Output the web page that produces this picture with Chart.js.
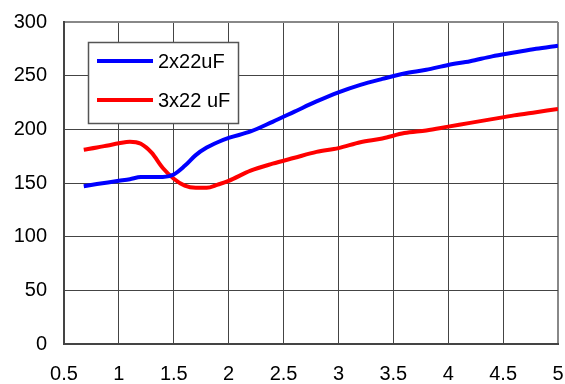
<!DOCTYPE html>
<html>
<head>
<meta charset="utf-8">
<script src="https://cdn.jsdelivr.net/npm/chart.js@4"></script>
<style>
    html, body { margin: 0; padding: 0; background: #fff; }
    #wrap { width: 565px; height: 384px; }
</style>
</head>
<body>
<div id="wrap"><canvas id="chart"></canvas></div>
<script>
// データ
const xValues = [0.68, 0.8, 0.9, 1.0, 1.1, 1.2, 1.3, 1.4, 1.5, 1.6, 1.7, 1.8, 1.9, 2.0,
    2.2, 2.4, 2.6, 2.8, 3.0, 3.2, 3.4, 3.6, 3.8, 4.0, 4.2, 4.4, 4.6, 4.8, 5.0];
const blueValues = [147, 149, 150.5, 152, 153.5, 155.5, 155.5, 155.5, 158, 166, 176, 183, 188, 192,
    198, 207, 216.5, 226, 234.5, 241.5, 247, 252, 255.5, 260, 263.5, 268, 271.5, 275, 278];
const redValues = [181, 183, 185, 187, 188.5, 186.5, 178, 164, 154, 147.5, 145.5, 145.5, 148.5, 152,
    161.5, 168, 173.5, 179, 182.5, 188, 191.5, 196.5, 199, 202.5, 206, 209.5, 213, 216, 219];
const seriesLabels = ['2x22uF', '3x22 uF'];

const FONT = '"Liberation Sans", Arial, sans-serif';

const toPoints = (ys) => xValues.map((x, i) => ({ x: x, y: ys[i] }));

// 枠付きの凡例を描くプラグイン
const boxLegend = {
    id: 'boxLegend',
    afterDraw(chart) {
        const ctx = chart.ctx;
        const left = 88, top = 42, w = 150, h = 81;
        ctx.save();
        ctx.fillStyle = '#fff';
        ctx.fillRect(left, top, w, h);
        ctx.strokeStyle = '#555';
        ctx.lineWidth = 1.5;
        ctx.strokeRect(left + 0.5, top + 0.5, w, h);
        ctx.font = '20px ' + FONT;
        ctx.textBaseline = 'middle';
        chart.data.datasets.forEach((ds, i) => {
            const y = 61 + i * 39;
            ctx.strokeStyle = ds.borderColor;
            ctx.lineWidth = 4;
            ctx.beginPath();
            ctx.moveTo(97, y);
            ctx.lineTo(153, y);
            ctx.stroke();
            ctx.fillStyle = '#000';
            ctx.fillText(ds.label, 158, y + 1);
        });
        ctx.restore();
    }
};

new Chart(document.getElementById('chart'), {
    type: 'line',
    data: {
        datasets: [
            { label: seriesLabels[0], data: toPoints(blueValues), borderColor: '#0000ff', borderWidth: 4, pointRadius: 0, cubicInterpolationMode: 'monotone' },
            { label: seriesLabels[1], data: toPoints(redValues), borderColor: '#ff0000', borderWidth: 4, pointRadius: 0, cubicInterpolationMode: 'monotone' }
        ]
    },
    options: {
        animation: false, responsive: true, maintainAspectRatio: false,
        layout: { padding: { top: 22, right: 7, left: 0, bottom: 0 } },
        plugins: { legend: { display: false }, tooltip: { enabled: false } },
        scales: {
            x: {
                type: 'linear', min: 0.5, max: 5,
                afterFit: (s) => { s.height = 40; s.paddingLeft = 0; s.paddingRight = 0; },
                ticks: { stepSize: 0.5, color: '#000', font: { family: FONT, size: 20 }, padding: 18, maxRotation: 0, callback: (v) => String(v) },
                grid: { drawTicks: false, color: (c) => c.tick && c.tick.value === 5 ? '#888' : '#444', lineWidth: (c) => c.tick && c.tick.value === 5 ? 2 : 1 },
                border: { color: '#444', width: 2 }
            },
            y: {
                min: 0, max: 300,
                afterFit: (s) => { s.width = 64; s.paddingTop = 0; s.paddingBottom = 0; },
                ticks: { stepSize: 50, color: '#000', font: { family: FONT, size: 20 }, padding: 17 },
                grid: { drawTicks: false, color: (c) => c.tick && c.tick.value === 300 ? '#888' : '#444', lineWidth: (c) => c.tick && c.tick.value === 300 ? 2 : 1 },
                border: { color: '#444', width: 2 }
            }
        }
    },
    plugins: [boxLegend]
});
</script>
</body>
</html>
